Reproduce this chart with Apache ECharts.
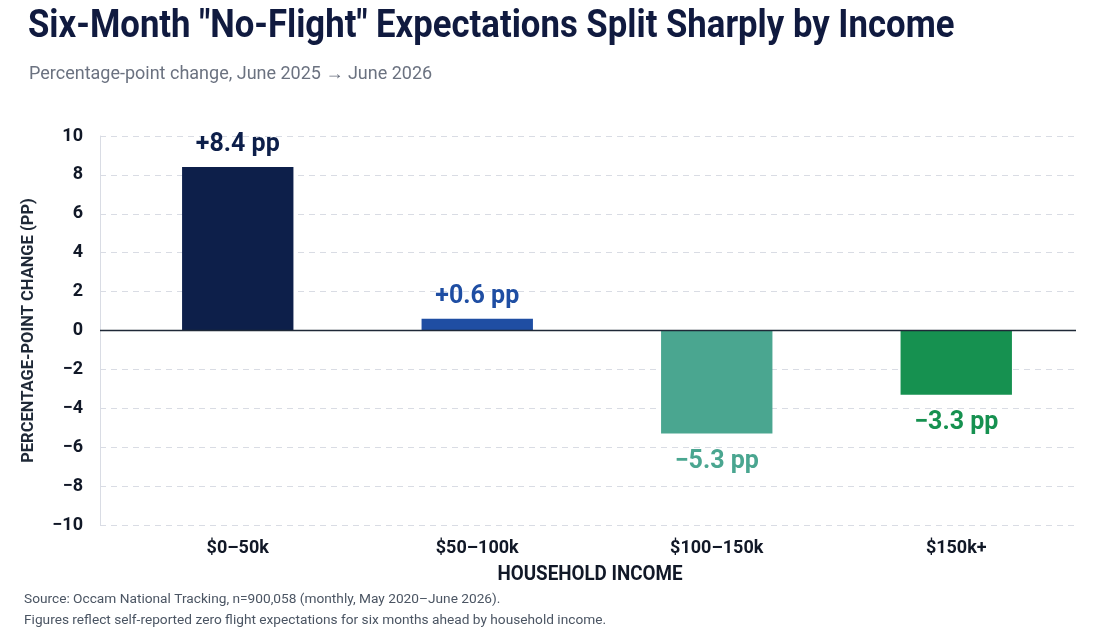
<!DOCTYPE html>
<html>
<head>
<meta charset="utf-8">
<script src="https://cdn.jsdelivr.net/npm/echarts@6/dist/echarts.min.js"></script>
<style>
html,body{margin:0;padding:0;background:#ffffff;}
#chart{width:1102px;height:632px;}
</style>
</head>
<body>
<div id="chart"></div>
<script>
const categories = ["$0–50k", "$50–100k", "$100–150k", "$150k+"];
const values = [8.4, 0.6, -5.3, -3.3];
const barColors = ["#0d1f4a", "#1f4ea3", "#4aa690", "#169150"];
const yTicks = { min: -10, max: 10, interval: 2 };

const chart = echarts.init(document.getElementById('chart'));
const fmtMinus = v => String(v).replace('-', '−');
const TOP = 136, BOTTOM = 107, RIGHT = 26;

chart.setOption({
  backgroundColor: '#ffffff',
  animation: false,
  title: [
    {
      text: 'Percentage-point change, June 2025 → June 2026',
      left: 29, top: 65, padding: 0,
      textStyle: { fontFamily: 'Roboto', fontWeight: 'normal', fontSize: 18, color: '#6b7280' }
    },
    {
      text: 'Source: Occam National Tracking, n=900,058 (monthly, May 2020–June 2026).',
      left: 24, top: 593, padding: 0,
      textStyle: { fontFamily: 'Roboto', fontWeight: 'normal', fontSize: 13.7, color: '#4b5563' }
    },
    {
      text: 'Figures reflect self-reported zero flight expectations for six months ahead by household income.',
      left: 24, top: 614, padding: 0,
      textStyle: { fontFamily: 'Roboto', fontWeight: 'normal', fontSize: 13.7, color: '#4b5563' }
    }
  ],
  graphic: [
    {
      type: 'text',
      x: 28, y: 8,
      scaleX: 0.89,
      style: {
        text: 'Six-Month "No-Flight" Expectations Split Sharply by Income',
        font: 'bold 39px Roboto',
        fill: '#101a3f'
      }
    },
    {
      type: 'text',
      x: 590, y: 575,
      scaleX: 0.94,
      style: {
        text: 'HOUSEHOLD INCOME',
        font: 'bold 20px Roboto',
        fill: '#111827',
        align: 'center',
        verticalAlign: 'middle'
      }
    }
  ],
  grid: [
    { left: 100, right: RIGHT, top: TOP, bottom: BOTTOM, containLabel: false },
    { left: 118, right: RIGHT, top: TOP, bottom: BOTTOM, containLabel: false }
  ],
  xAxis: [
    { gridIndex: 0, type: 'value', min: 0, max: 1, show: false },
    {
      gridIndex: 1,
      type: 'category',
      data: categories,
      axisLine: { show: false },
      axisTick: { show: false },
      axisLabel: { margin: 14, fontFamily: 'Roboto', fontWeight: 'bold', fontSize: 18, color: '#111827' },
      splitLine: { show: false }
    }
  ],
  yAxis: [
    {
      gridIndex: 0,
      type: 'value',
      min: yTicks.min, max: yTicks.max, interval: yTicks.interval,
      name: 'PERCENTAGE-POINT CHANGE (PP)',
      nameLocation: 'middle',
      nameGap: 63,
      nameRotate: 90,
      nameTextStyle: { fontFamily: 'Roboto', fontWeight: 'bold', fontSize: 16.5, color: '#1f2937' },
      axisLine: { show: true, lineStyle: { color: '#d9dce4', width: 1 } },
      axisTick: { show: false },
      axisLabel: { margin: 17, fontFamily: 'Roboto', fontWeight: 'bold', fontSize: 18, color: '#111827', formatter: fmtMinus },
      splitLine: { show: true, lineStyle: { color: '#d9dce4', type: [6, 5], width: 1 } }
    },
    { gridIndex: 1, type: 'value', min: yTicks.min, max: yTicks.max, interval: yTicks.interval, show: false, splitLine: { show: false } }
  ],
  series: [
    {
      type: 'bar',
      xAxisIndex: 1, yAxisIndex: 1,
      barWidth: '46.5%',
      z: 2,
      data: values.map((v, i) => ({
        value: v,
        itemStyle: { color: barColors[i] },
        label: {
          show: true,
          position: v >= 0 ? 'top' : 'bottom',
          distance: v >= 0 ? 10 : 16,
          color: barColors[i],
          fontFamily: 'Roboto', fontWeight: 'bold', fontSize: 25,
          formatter: () => (v >= 0 ? '+' + v.toFixed(1) : '−' + Math.abs(v).toFixed(1)) + ' pp'
        }
      }))
    },
    {
      type: 'line',
      xAxisIndex: 0, yAxisIndex: 0,
      silent: true,
      symbol: 'none',
      z: 5,
      lineStyle: { color: '#1f2937', width: 1.5 },
      data: [[0, 0], [1, 0]]
    }
  ]
});
</script>
</body>
</html>
